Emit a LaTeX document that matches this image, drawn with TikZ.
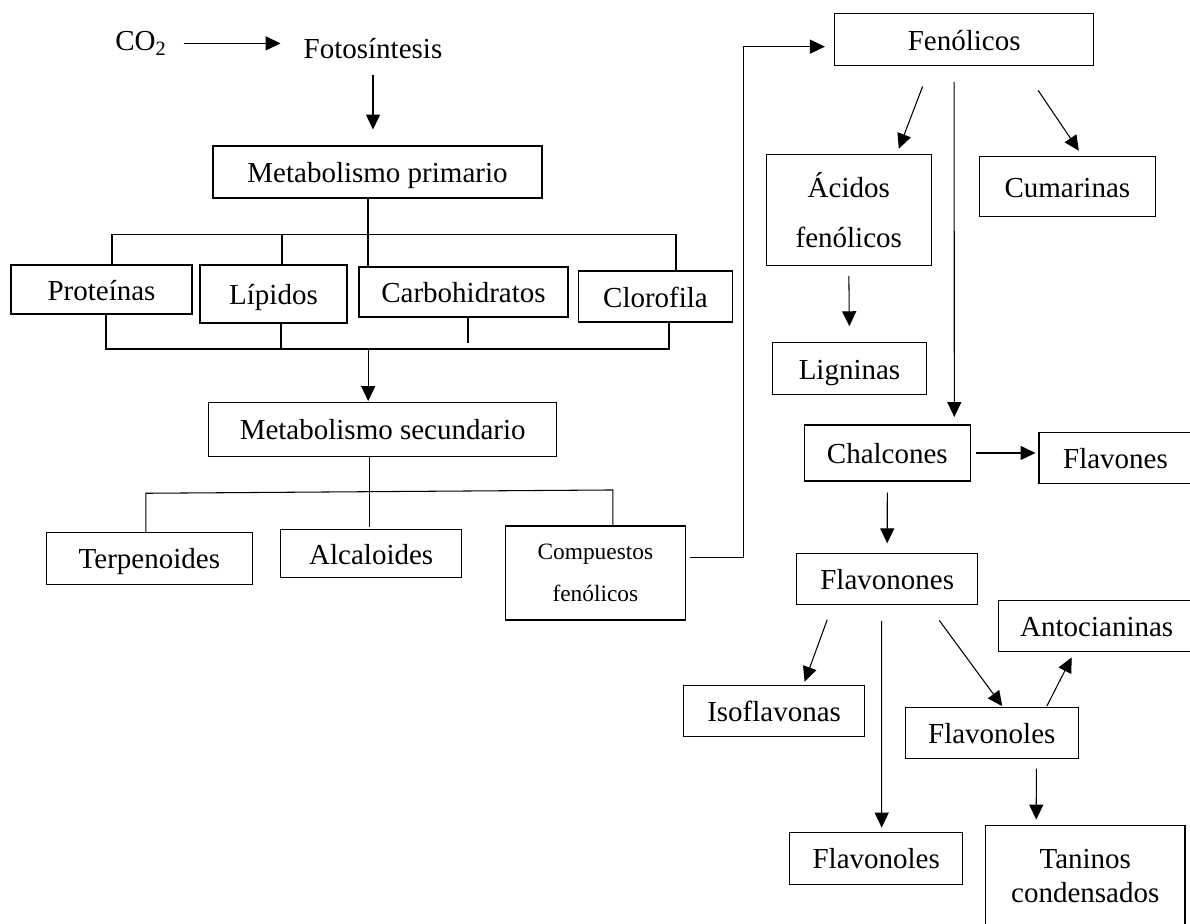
\documentclass[tikz,border=0pt]{standalone}
\usepackage{fontspec}
\setmainfont{Liberation Serif}
\usetikzlibrary{arrows.meta,calc,positioning}

\tikzset{
  box/.style={draw, line width=0.6pt, align=center, inner sep=0pt},
  onebox/.style={box, text height=12pt, text depth=0pt},
  conn/.style={line width=0.6pt},
  arr/.style={line width=0.6pt, -{Triangle[length=8.5pt,width=8pt]}},
}

\begin{document}
\begin{tikzpicture}[font=\fontsize{16.5}{20}\selectfont]

    \useasboundingbox (0,0) rectangle (23.8,18.46);

    % CO2 and photosynthesis
    \node[anchor=base] (co2) at (2.82,17.446) {CO\textsubscript{2}};
    \node[anchor=base] (foto) at (7.46,17.294) {Fotosíntesis};

    % primary metabolism
    \node[onebox, minimum width=6.58cm, minimum height=1.04cm] (mp) at (7.55,15.02) {Metabolismo primario};
    \node[onebox, minimum width=3.62cm, minimum height=0.98cm] (prot) at (2.03,12.67) {Proteínas};
    \node[onebox, minimum width=2.94cm, minimum height=1.16cm] (lip) at (5.47,12.58) {Lípidos};
    \node[onebox, minimum width=4.18cm, minimum height=1.0cm] (carb) at (9.27,12.62) {Carbohidratos};
    \node[onebox, minimum width=3.08cm, minimum height=1.02cm] (clor) at (13.11,12.53) {Clorofila};

    % secondary metabolism
    \node[onebox, minimum width=6.96cm, minimum height=1.07cm] (ms) at (7.654,9.873) {Metabolismo secundario};
    \node[onebox, minimum width=4.11cm, minimum height=1.04cm] (terp) at (2.987,7.294) {Terpenoides};
    \node[onebox, minimum width=3.62cm, minimum height=0.97cm] (alc) at (7.424,7.387) {Alcaloides};
    \node[box, minimum width=3.61cm, minimum height=1.88cm, font=\fontsize{13.3}{24}\selectfont]
      (comp) at (11.907,7.0) {Compuestos\\fenólicos};

    % phenolics
    \node[onebox, minimum width=5.17cm, minimum height=1.05cm] (fen) at (19.283,17.667) {Fenólicos};
    \node[box, minimum width=3.3cm, minimum height=2.23cm, font=\fontsize{16.5}{28.3}\selectfont]
      (acid) at (16.976,14.26) {Ácidos\\fenólicos};
    \node[onebox, minimum width=3.51cm, minimum height=1.2cm] (cum) at (21.347,14.726) {Cumarinas};
    \node[onebox, minimum width=3.09cm, minimum height=1.03cm] (lig) at (16.99,11.09) {Ligninas};
    \node[onebox, minimum width=3.32cm, minimum height=1.12cm] (chal) at (17.746,9.4) {Chalcones};
    \node[onebox, minimum width=3.06cm, minimum height=1.02cm] (flv) at (22.31,9.302) {Flavones};
    \node[onebox, minimum width=3.62cm, minimum height=1.02cm] (flvn) at (17.744,6.884) {Flavonones};
    \node[onebox, minimum width=3.91cm, minimum height=1.01cm] (anto) at (21.934,5.937) {Antocianinas};
    \node[onebox, minimum width=3.62cm, minimum height=1.02cm] (iso) at (15.482,4.236) {Isoflavonas};
    \node[onebox, minimum width=3.46cm, minimum height=1.02cm] (flvl1) at (19.836,3.796) {Flavonoles};
    \node[onebox, minimum width=3.46cm, minimum height=1.03cm] (flvl2) at (17.524,1.293) {Flavonoles};
    \node[box, minimum width=3.99cm, minimum height=2.01cm, font=\fontsize{16.5}{19.3}\selectfont]
      (tan) at (21.705,0.943) {Taninos\\condensados};

    % top arrows
    \draw[arr, shorten <=.22cm, shorten >=.34cm] (co2.east) -- (co2.east -| foto.west);
    \draw[arr, shorten <=.2cm, shorten >=.32cm] (foto.south) -- (foto.south |- mp.north);

    % primary brackets
    \draw[conn] ($(mp.south)+(-.19,0)$) -- ++(0,-1.38);
    \draw[conn] ($(prot.north)+(.21,0)$) -- ++(0,.6) -| ($(clor.north)+(.41,0)$);
    \draw[conn] ($(lip.north)+(.17,0)$) -- ++(0,.6);
    \draw[conn] ($(prot.south)+(.09,0)$) -- ++(0,-.69) -| ($(clor.south)+(.27,0)$);
    \draw[conn] ($(lip.south)+(.15,0)$) -- ++(0,-.51);
    \draw[conn] ($(carb.south)+(.09,0)$) -- ++(0,-.51);
    \draw[arr] ($(ms.north)+(-.29,1.07)$) -- ($(ms.north)+(-.29,.02)$);

    % secondary brackets
    \draw[conn] ($(ms.south)+(-.27,0)$) -- ++(0,-1.4);
    \draw[conn] ($(terp.north)+(-.07,0)$) -- ++(0,.77) -- ($(comp.north)+(.35,.71)$) -- ($(comp.north)+(.35,0)$);
    \draw[arr] ($(comp.east)+(.07,.31)$) -- ++(1.08,0) |- ($(fen.west)+(-.19,-.14)$);

    % phenolic pathway
    \draw[arr] ($(fen.south)+(-.83,-.40)$) -- ($(acid.north)+(1.0,.1)$);
    \draw[arr] ($(fen.south)+(-.2,-.31)$) -- ($(chal.north)+(1.34,.15)$);
    \draw[arr] ($(fen.south)+(1.48,-.48)$) -- ($(cum.north)+(.23,.11)$);
    \draw[arr, shorten <=.19cm, shorten >=.32cm] (acid.south) -- (lig.north);
    \draw[arr, shorten <=.11cm, shorten >=.06cm] (chal.east) -- (chal.east -| flv.west);
    \draw[arr, shorten <=.22cm, shorten >=.19cm] (chal.south) -- (flvn.north);
    \draw[arr] ($(flvn.south)+(-1.2,-.3)$) -- ($(iso.north)+(.61,.07)$);
    \draw[arr] ($(flvn.south)+(-.11,-.32)$) -- ($(flvl2.north)+(.11,.09)$);
    \draw[arr] ($(flvn.south)+(1.04,-.31)$) -- ($(flvl1.north)+(.21,.02)$);
    \draw[arr] ($(flvl1.north)+(1.1,.02)$) -- ($(anto.south)+(-.5,-.11)$);
    \draw[arr] ($(flvl1.south)+(.89,-.19)$) -- ($(tan.north)+(-.98,.11)$);

\end{tikzpicture}
\end{document}
